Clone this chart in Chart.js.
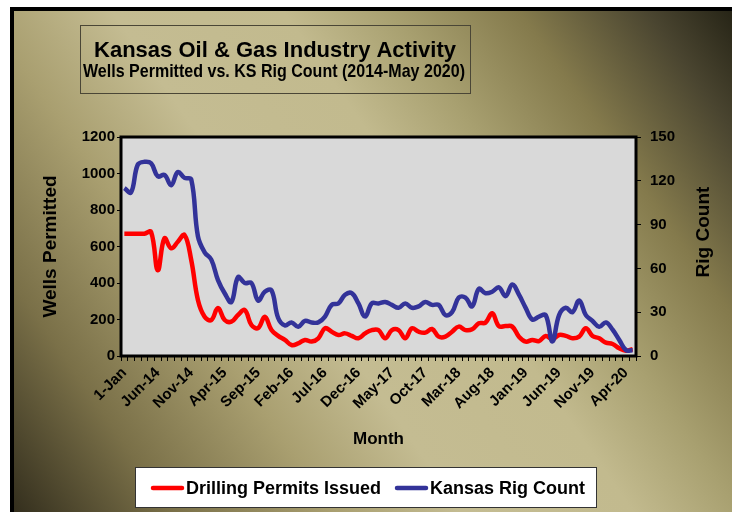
<!DOCTYPE html>
<html>
<head>
<meta charset="utf-8">
<script src="https://cdn.jsdelivr.net/npm/chart.js@4.4.1/dist/chart.umd.min.js"></script>
<style>
  html, body { margin: 0; padding: 0; background: #fff; }
  #wrap { width: 732px; height: 512px; }
</style>
</head>
<body>
<div id="wrap"><canvas id="grafPozos" width="732" height="512"></canvas></div>
<script>
const titleText = ['Kansas Oil & Gas Industry Activity', 'Wells Permitted vs. KS Rig Count (2014-May 2020)']
const rightTitle = 'Rig Count'

const months = [
  'Jan-14','Feb-14','Mar-14','Apr-14','May-14','Jun-14','Jul-14','Aug-14','Sep-14','Oct-14','Nov-14','Dec-14',
  'Jan-15','Feb-15','Mar-15','Apr-15','May-15','Jun-15','Jul-15','Aug-15','Sep-15','Oct-15','Nov-15','Dec-15',
  'Jan-16','Feb-16','Mar-16','Apr-16','May-16','Jun-16','Jul-16','Aug-16','Sep-16','Oct-16','Nov-16','Dec-16',
  'Jan-17','Feb-17','Mar-17','Apr-17','May-17','Jun-17','Jul-17','Aug-17','Sep-17','Oct-17','Nov-17','Dec-17',
  'Jan-18','Feb-18','Mar-18','Apr-18','May-18','Jun-18','Jul-18','Aug-18','Sep-18','Oct-18','Nov-18','Dec-18',
  'Jan-19','Feb-19','Mar-19','Apr-19','May-19','Jun-19','Jul-19','Aug-19','Sep-19','Oct-19','Nov-19','Dec-19',
  'Jan-20','Feb-20','Mar-20','Apr-20','May-20'
]

// shown every 5th month
const tickLabels = ['1-Jan','Jun-14','Nov-14','Apr-15','Sep-15','Feb-16','Jul-16','Dec-16',
  'May-17','Oct-17','Mar-18','Aug-18','Jan-19','Jun-19','Nov-19','Apr-20']

const permits = [
  670, 670, 670, 670, 680, 470, 645, 590, 626, 663, 526, 307,
  215, 197, 263, 197, 188, 225, 252, 170, 153, 215, 142, 110,
  88, 60, 69, 88, 79, 97, 152, 133, 115, 124, 110, 97,
  124, 142, 142, 97, 142, 142, 97, 152, 133, 128, 148, 106,
  106, 133, 161, 142, 146, 179, 183, 234, 164, 164, 161, 106,
  79, 88, 82, 110, 91, 115, 110, 97, 106, 152, 110, 97,
  73, 66, 42, 29, 37
]

const rigs = [
  115, 112, 131, 133, 132, 123, 124, 117, 126, 122, 121, 82,
  71, 66, 52, 43, 37, 54, 50, 50, 38, 44, 45, 26,
  21, 23, 20, 24, 23, 23, 27, 35, 36, 42, 43, 36,
  27, 36, 36, 37, 35, 33, 36, 33, 34, 37, 35, 35,
  28, 30, 40, 40, 34, 46, 43, 44, 47, 41, 49, 42,
  33, 25, 27, 28, 10, 28, 33, 30, 38, 28, 24, 20,
  23, 18, 11, 4, 4
]

const FONT = '"Liberation Sans", Arial, sans-serif'
Chart.defaults.font.family = FONT
Chart.defaults.color = '#000'

const background = {
  id: 'background',
  beforeDraw(chart) {
    const ctx = chart.ctx
    const {left, top, right, bottom} = chart.chartArea
    ctx.save()
    ctx.fillStyle = '#ffffff'
    ctx.fillRect(0, 0, 732, 512)
    ctx.fillStyle = '#000000'
    ctx.fillRect(10, 7, 722, 505)
    const g = ctx.createLinearGradient(12, 512, 732, 9)
    g.addColorStop(0, '#332e1d')
    g.addColorStop(0.15, '#7a7048')
    g.addColorStop(0.3, '#a99f70')
    g.addColorStop(0.42, '#c4bc92')
    g.addColorStop(0.58, '#c2ba8e')
    g.addColorStop(0.68, '#a8a070')
    g.addColorStop(0.8, '#847a4c')
    g.addColorStop(0.92, '#4a4530')
    g.addColorStop(1, '#262416')
    ctx.fillStyle = g
    ctx.fillRect(14, 11, 718, 501)

    // title box
    ctx.strokeStyle = '#4a4636'
    ctx.lineWidth = 1
    ctx.strokeRect(80.5, 25.5, 390, 68)
    ctx.fillStyle = '#000'
    ctx.textAlign = 'center'
    ctx.textBaseline = 'alphabetic'
    ctx.font = 'bold 22px ' + FONT
    ctx.fillText(titleText[0], 275, 57)
    ctx.font = 'bold 19px ' + FONT
    const w = ctx.measureText(titleText[1]).width
    ctx.translate(274, 77)
    ctx.scale(382 / w, 1)
    ctx.fillText(titleText[1], 0, 0)
    ctx.restore()

    ctx.save()
    ctx.fillStyle = '#d9d9d9'
    ctx.fillRect(left, top, right - left, bottom - top)
    ctx.restore()
  }
}

const frame = {
  id: 'frame',
  afterDatasetsDraw(chart) {
    const ctx = chart.ctx
    const {left, top, right, bottom} = chart.chartArea
    ctx.save()
    ctx.strokeStyle = '#000'
    ctx.lineWidth = 3
    ctx.strokeRect(left, top, right - left, bottom - top)
    ctx.restore()
  }
}

const legendBox = {
  id: 'legendBox',
  afterDraw(chart) {
    const ctx = chart.ctx
    ctx.save()
    // right axis title, reads bottom to top
    ctx.fillStyle = '#000'
    ctx.font = 'bold 19px ' + FONT
    ctx.textAlign = 'center'
    ctx.textBaseline = 'middle'
    ctx.translate(704, 232)
    ctx.rotate(-Math.PI / 2)
    ctx.fillText(rightTitle, 0, 0)
    ctx.restore()

    ctx.save()
    ctx.fillStyle = '#fff'
    ctx.fillRect(135, 467, 461, 40)
    ctx.strokeStyle = '#333'
    ctx.lineWidth = 1
    ctx.strokeRect(135.5, 467.5, 461, 40)
    const spots = [[153, 186], [397, 430]]
    chart.data.datasets.forEach((ds, k) => {
      ctx.strokeStyle = ds.borderColor
      ctx.lineWidth = 4.5
      ctx.lineCap = 'round'
      ctx.beginPath()
      ctx.moveTo(spots[k][0], 488)
      ctx.lineTo(spots[k][1] - 4, 488)
      ctx.stroke()
      ctx.fillStyle = '#000'
      ctx.font = 'bold 18px ' + FONT
      ctx.textAlign = 'left'
      ctx.textBaseline = 'alphabetic'
      ctx.fillText(ds.label, spots[k][1], 494)
    })
    ctx.restore()
  }
}

const tickFont = {weight: 'bold', size: 15}

new Chart(document.getElementById('grafPozos'), {
  type: 'line',
  data: {
    labels: months,
    datasets: [{
      label: 'Drilling Permits Issued',
      data: permits,
      borderColor: '#ff0000',
      backgroundColor: '#ff0000',
      borderWidth: 4.5,
      pointRadius: 0,
      tension: 0.4,
      yAxisID: 'y',
      order: 1,
    }, {
      label: 'Kansas Rig Count',
      data: rigs,
      borderColor: '#333399',
      backgroundColor: '#333399',
      borderWidth: 4.5,
      pointRadius: 0,
      tension: 0.4,
      yAxisID: 'y1',
      order: 0,
    }]
  },
  options: {
    responsive: false,
    animation: false,
    layout: {padding: {top: 137, left: 0, right: 0, bottom: 0}},
    plugins: {
      legend: {display: false},
      title: {display: false},
      tooltip: {enabled: false},
    },
    scales: {
      x: {
        offset: true,
        grid: {offset: true, drawOnChartArea: false, color: '#000', tickLength: 5},
        border: {display: false},
        ticks: {
          autoSkip: false,
          maxRotation: 45,
          minRotation: 45,
          padding: 3,
          color: '#000',
          font: {weight: 'bold', size: 15},
          callback: (v, i) => i % 5 === 0 ? tickLabels[i / 5] : '',
        },
        title: {display: true, text: 'Month', color: '#000', font: {weight: 'bold', size: 17}, padding: {top: 0, bottom: 62}},
        afterFit: s => { s.height = 156 },
      },
      y: {
        position: 'left',
        min: 0,
        max: 1200,
        grid: {drawOnChartArea: false, color: '#000', tickLength: 4},
        border: {display: false},
        ticks: {stepSize: 200, padding: 2, color: '#000', font: tickFont, callback: v => String(v)},
        title: {display: true, text: 'Wells Permitted', color: '#000', font: {weight: 'bold', size: 19}, padding: {top: 39, bottom: 0}},
        afterFit: s => { s.width = 121 },
      },
      y1: {
        position: 'right',
        min: 0,
        max: 150,
        grid: {drawOnChartArea: false, color: '#000', tickLength: 5},
        border: {display: false},
        ticks: {stepSize: 30, padding: 9, color: '#000', font: tickFont, callback: v => String(v)},
        afterFit: s => { s.width = 96 },
      },
    }
  },
  plugins: [background, frame, legendBox]
})
</script>
</body>
</html>
